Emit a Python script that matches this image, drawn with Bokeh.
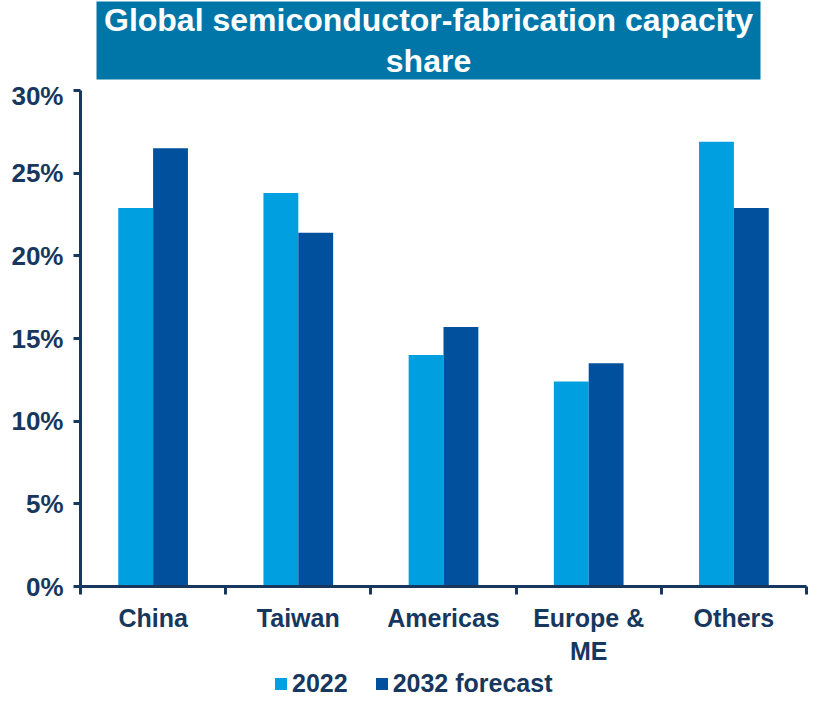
from bokeh.plotting import figure
from bokeh.layouts import column
from bokeh.models import (ColumnDataSource, Range1d, FixedTicker, PrintfTickFormatter,
                          Legend, LegendItem)
from bokeh.core.properties import value
from bokeh.embed import file_html
from bokeh.resources import INLINE

categories = ["China", "Taiwan", "Americas", "Europe & ME", "Others"]
category_labels = ["China", "Taiwan", "Americas", "Europe &\nME", "Others"]
share_2022 = [22.9, 23.8, 14.0, 12.4, 26.9]
share_2032 = [26.5, 21.4, 15.7, 13.5, 22.9]
y_ticks = [0, 5, 10, 15, 20, 25, 30]
series_names = ["2022", "2032 forecast"]
title_text = "Global semiconductor-fabrication capacity\nshare"

LIGHT = "#009FDF"
DARK = "#00509E"
NAVY = "#17375E"
TITLE_BG = "#0076A8"
FONT = "Liberation Sans"
W = 810
FL, FR = 80, 806   # frame left / right in page pixels (frames are aligned in the column)


def bare(fig):
    fig.outline_line_color = None
    fig.grid.visible = False
    fig.axis.visible = False
    fig.background_fill_color = "white"
    fig.border_fill_color = "white"
    return fig


n = len(categories)
centers = [i + 0.5 for i in range(n)]
off = 0.12
bw = 0.24
src = ColumnDataSource(dict(
    x1=[c - off for c in centers], x2=[c + off for c in centers],
    a=share_2022, b=share_2032))

# ---------------- title panel ----------------
TH = 80
tf = bare(figure(width=W, height=TH, output_backend="svg", toolbar_location=None,
                 x_range=Range1d(FL, FR), y_range=Range1d(0, TH),
                 min_border_left=0, min_border_right=0,
                 min_border_top=0, min_border_bottom=0))
tf.quad(left=[96], right=[760], bottom=[1], top=[79], fill_color=TITLE_BG, line_color=None)
tf.text(x=[428], y=[40], text=[title_text], text_align="center", text_baseline="middle",
        text_font=value(FONT), text_font_style="bold", text_font_size="32px",
        text_color="white", text_line_height=1.12)

# ---------------- main chart ----------------
p = figure(width=W, height=588, output_backend="svg", toolbar_location=None,
           x_range=Range1d(0, n), y_range=Range1d(0, 30),
           min_border_left=FL, min_border_right=W - FR, min_border_top=10, min_border_bottom=76)
p.outline_line_color = None
p.xgrid.grid_line_color = None
p.ygrid.grid_line_color = None
p.background_fill_color = "white"
p.border_fill_color = "white"

p.vbar(x="x1", top="a", width=bw, source=src, fill_color=LIGHT, line_color=None)
p.vbar(x="x2", top="b", width=bw, source=src, fill_color=DARK, line_color=None)

xa = p.xaxis[0]
xa.ticker = FixedTicker(ticks=centers, minor_ticks=list(range(n + 1)))
xa.major_label_overrides = {c: lab for c, lab in zip(centers, category_labels)}
xa.major_tick_line_color = None
xa.minor_tick_line_color = NAVY
xa.minor_tick_line_width = 3
xa.minor_tick_out = 8
xa.minor_tick_in = 0
xa.axis_line_color = NAVY
xa.axis_line_width = 3
xa.major_label_text_font = FONT
xa.major_label_text_font_style = "bold"
xa.major_label_text_font_size = "25px"
xa.major_label_text_color = NAVY
xa.major_label_standoff = 9

ya = p.yaxis[0]
ya.ticker = FixedTicker(ticks=y_ticks)
ya.formatter = PrintfTickFormatter(format="%d%%")
ya.major_tick_line_color = NAVY
ya.major_tick_line_width = 3
ya.major_tick_out = 7
ya.major_tick_in = 0
ya.minor_tick_line_color = None
ya.axis_line_color = NAVY
ya.axis_line_width = 3
ya.major_label_text_font = FONT
ya.major_label_text_font_style = "bold"
ya.major_label_text_font_size = "26px"
ya.major_label_text_color = NAVY
ya.major_label_standoff = 10

# ---------------- legend panel ----------------
LH = 30
lf = bare(figure(width=W, height=LH, output_backend="svg", toolbar_location=None,
                 x_range=Range1d(0, n), y_range=Range1d(100, 101),
                 min_border_left=0, min_border_right=0,
                 min_border_top=0, min_border_bottom=0))
# same bars, outside this panel's visible range: they only supply the legend swatches
lr1 = lf.vbar(x="x1", top="a", width=bw, source=src, fill_color=LIGHT, line_color=None)
lr2 = lf.vbar(x="x2", top="b", width=bw, source=src, fill_color=DARK, line_color=None)
legend = Legend(items=[LegendItem(label=series_names[0], renderers=[lr1]),
                       LegendItem(label=series_names[1], renderers=[lr2])],
                orientation="horizontal", location="bottom_left",
                label_text_font=FONT, label_text_font_style="bold",
                label_text_font_size="25px", label_text_color=NAVY,
                glyph_width=15, glyph_height=15, label_standoff=4, spacing=26,
                border_line_color=None, background_fill_alpha=0,
                padding=0, margin=0)
legend.location = (193, 0)
lf.add_layout(legend)

layout = column(tf, p, lf, spacing=0)
open("out.html", "w").write(file_html(layout, INLINE))
